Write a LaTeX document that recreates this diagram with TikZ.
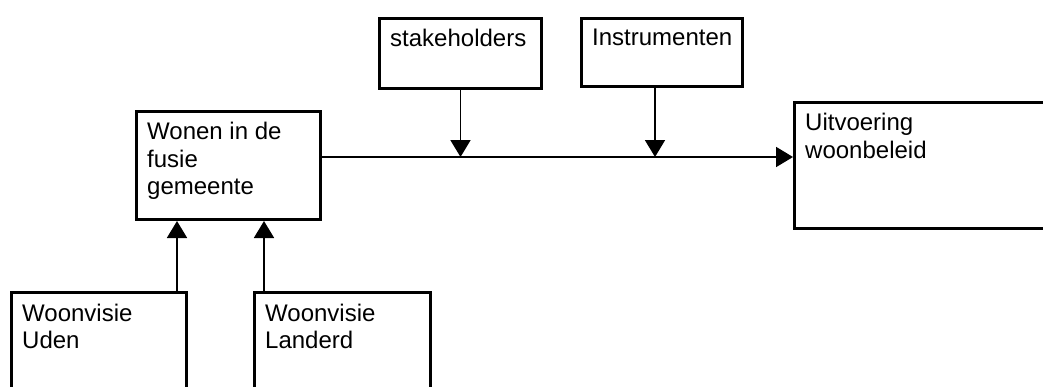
\documentclass[tikz,border=0pt]{standalone}
\usepackage{fontspec}
\setmainfont{Liberation Sans}
\usetikzlibrary{arrows.meta, positioning, calc}

\begin{document}
\begin{tikzpicture}[
  x=1pt, y=-1pt,
  box/.style={rectangle, draw=black, line width=3pt, inner sep=0pt},
  lbl/.style={anchor=north west, inner sep=0pt, align=left, font=\fontsize{24}{27.5}\selectfont},
  arrow/.style={-{Triangle[length=17pt, width=20pt]}, line width=1.8pt}
]
  \useasboundingbox (0,0) rectangle (1043,386);
  \clip (0,0) rectangle (1043,386);

  % Top inputs
  \node[box, minimum width=162pt, minimum height=70pt] (stake) at (460.5,53.5) {};
  \node[lbl] (stakelbl) at ([xshift=12pt, yshift=-12pt]stake.north west) {stakeholders};
  \node[box, minimum width=161pt, minimum height=68pt] (instr) at (662,52.5) {};
  \node[lbl] (instrlbl) at ([xshift=12pt, yshift=-12pt]instr.north west) {Instrumenten};

  % Central box
  \node[box, minimum width=184pt, minimum height=108pt] (wonen) at (228.5,165.5) {};
  \node[lbl] (wonenlbl) at ([xshift=12pt, yshift=-12pt]wonen.north west) {Wonen in de\\fusie\\gemeente};

  % Result
  \node[box, minimum width=257pt, minimum height=126pt] (uitv) at (923,165.5) {};
  \node[lbl] (uitvlbl) at ([xshift=12pt, yshift=-12pt]uitv.north west) {Uitvoering\\woonbeleid};

  % Bottom sources
  \node[box, minimum width=175pt, minimum height=108pt] (uden) at (99,346) {};
  \node[lbl] (udenlbl) at ([xshift=12pt, yshift=-13pt]uden.north west) {Woonvisie\\Uden};
  \node[box, minimum width=176pt, minimum height=108pt] (landerd) at (342.5,346) {};
  \node[lbl] (landerdlbl) at ([xshift=12pt, yshift=-13pt]landerd.north west) {Woonvisie\\Landerd};

  % Main flow
  \coordinate (lineL) at ([yshift=8.5pt]wonen.east);
  \coordinate (lineR) at ([yshift=8.5pt]uitv.west);
  \coordinate (joinS) at (stake.south |- lineL);
  \coordinate (joinI) at ([xshift=-7pt]instr.south |- lineL);
  \draw[arrow] (lineL) -- (lineR);

  % Influences on the flow
  \draw[arrow] (stake.south) -- (joinS);
  \draw[arrow] ([xshift=-7pt]instr.south) -- (joinI);

  % Sources into the central box
  \draw[arrow] ([xshift=-11pt]uden.north east) -- ([xshift=-11pt]uden.north east |- wonen.south);
  \draw[arrow] ([xshift=11pt]landerd.north west) -- ([xshift=11pt]landerd.north west |- wonen.south);
\end{tikzpicture}
\end{document}
